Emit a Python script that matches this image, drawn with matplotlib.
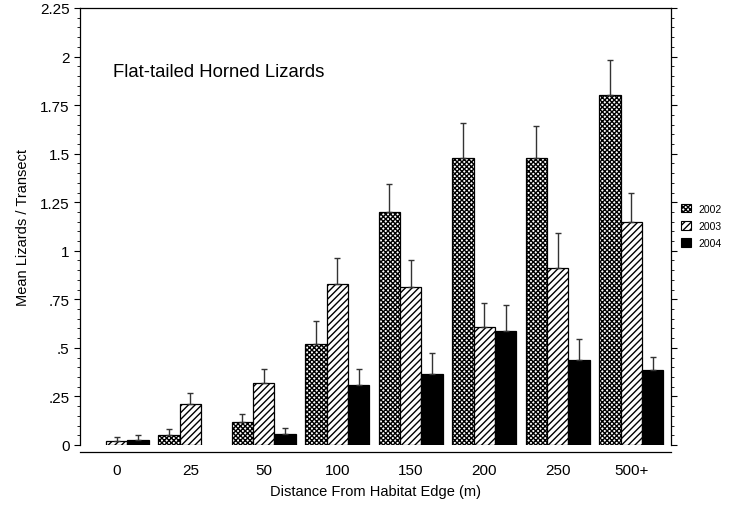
import numpy as np
import matplotlib
matplotlib.use("Agg")
import matplotlib.pyplot as plt
from matplotlib.patches import Patch

plt.rcParams['font.family'] = ['Liberation Sans', 'DejaVu Sans']
plt.rcParams['hatch.linewidth'] = 1.0

# distance classes and yearly means (+ upper SE)
distances = ['0', '25', '50', '100', '150', '200', '250', '500+']
years = ['2002', '2003', '2004']
mean2002 = [np.nan, 0.05, 0.12, 0.52, 1.20, 1.48, 1.48, 1.80]
se2002 = [np.nan, 0.03, 0.04, 0.12, 0.145, 0.18, 0.165, 0.18]
mean2003 = [0.02, 0.21, 0.32, 0.83, 0.815, 0.61, 0.91, 1.15]
se2003 = [0.02, 0.06, 0.07, 0.135, 0.135, 0.12, 0.18, 0.15]
mean2004 = [0.025, np.nan, 0.055, 0.31, 0.365, 0.585, 0.44, 0.385]
se2004 = [0.025, np.nan, 0.03, 0.08, 0.11, 0.135, 0.105, 0.07]

means = [mean2002, mean2003, mean2004]
errs = [se2002, se2003, se2004]
hatches = ['xxxxxxx', '/////', None]
faces = ['white', 'white', 'black']

fig = plt.figure(figsize=(7.48, 5.06), dpi=100)
ax = fig.add_axes([80/748, 1 - 446/506, (671-80)/748, (446-9)/506])

x = np.arange(len(distances))
w = 0.29
for k in range(3):
    xs = x + (k - 1) * w
    ax.bar(xs, means[k], width=w, color=faces[k], edgecolor='black',
           hatch=hatches[k], linewidth=0.9, zorder=2)
    ax.errorbar(xs, means[k], yerr=[np.zeros(len(x)), errs[k]], fmt='none',
                ecolor='#333333', elinewidth=1.0, capsize=2.5, capthick=1.0, zorder=3)

ax.set_xlim(-0.5, 7.54)
ax.set_ylim(0, 2.25)
ax.set_yticks(np.arange(0, 2.26, 0.25))
ax.set_yticklabels(['0', '.25', '.5', '.75', '1', '1.25', '1.5', '1.75', '2', '2.25'])
ax.set_yticks(np.arange(0, 2.26, 0.05), minor=True)
ax.set_xticks(x)
ax.set_xticklabels(distances)

ax.tick_params(axis='y', which='major', length=4, width=0.8, labelsize=11,
               right=True, direction='out')
ax.tick_params(axis='y', which='minor', length=2, width=0.6, right=True, direction='out')
ax.tick_params(axis='x', length=0, labelsize=11, pad=8)
ax.spines['bottom'].set_position(('outward', 5))
for s in ax.spines.values():
    s.set_linewidth(0.9)

ax.set_xlabel('Distance From Habitat Edge (m)', fontsize=10.5, labelpad=5)
ax.set_ylabel('Mean Lizards / Transect', fontsize=10.5, labelpad=7)
ax.text(0.055, 0.855, 'Flat-tailed Horned Lizards', transform=ax.transAxes,
        fontsize=13.3, ha='left', va='center')

handles = [Patch(facecolor=faces[k], edgecolor='black', hatch=hatches[k], linewidth=0.8)
           for k in range(3)]
fig.legend(handles, years, loc='center left', bbox_to_anchor=(677/748, 1 - 227/506),
           frameon=False, fontsize=7.5, handlelength=0.9, handleheight=0.9,
           handletextpad=0.8, labelspacing=0.7, borderaxespad=0)

fig.savefig('out.png', dpi=100)
